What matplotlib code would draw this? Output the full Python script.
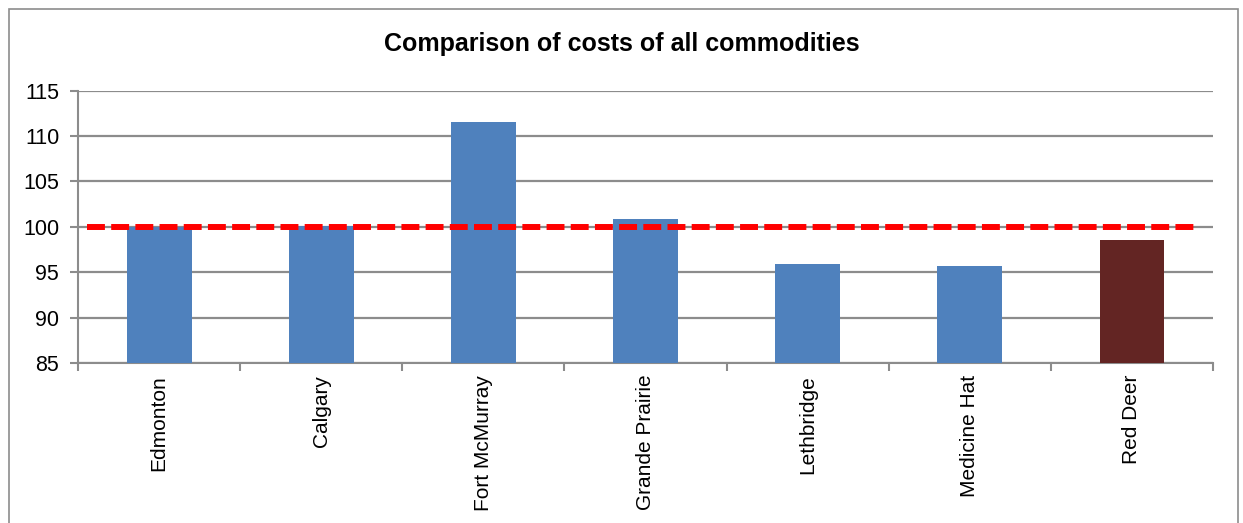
import matplotlib
matplotlib.use("Agg")
import matplotlib.pyplot as plt
from matplotlib.patches import Rectangle

plt.rcParams['font.family'] = ['Liberation Sans', 'DejaVu Sans']

cities = ["Edmonton", "Calgary", "Fort McMurray", "Grande Prairie",
          "Lethbridge", "Medicine Hat", "Red Deer"]
cost_index = [100.0, 100.1, 111.6, 100.9, 95.9, 95.7, 98.5]
baseline = 100
y_ticks = [85, 90, 95, 100, 105, 110, 115]

blue = "#4F81BD"
maroon = "#632523"
grid_gray = "#8C8C8C"
colors = [maroon if c == "Red Deer" else blue for c in cities]

fig = plt.figure(figsize=(12.43, 5.23), dpi=100)
ax = fig.add_axes([78 / 1243, 1 - 363 / 523, (1213 - 78) / 1243, (363 - 90.7) / 523])

x = list(range(len(cities)))
ax.bar(x, [v - y_ticks[0] for v in cost_index], bottom=y_ticks[0], width=0.4,
       color=colors, zorder=3)

ax.set_xlim(-0.5, len(cities) - 0.5)
ax.set_ylim(y_ticks[0], y_ticks[-1])
ax.set_yticks(y_ticks)
ax.set_yticklabels([str(t) for t in y_ticks], fontsize=15.5)
ax.set_xticks(x)
ax.set_xticklabels(cities, rotation=90, fontsize=15)
ax.tick_params(axis='x', length=0, pad=8.5)
ax.set_xticks([i + 0.5 for i in range(-1, len(cities))], minor=True)
ax.tick_params(axis='x', which='minor', length=6, width=1.5, color=grid_gray, direction='out')
ax.tick_params(axis='y', length=6, width=1.5, color=grid_gray, pad=7.5)

ax.yaxis.grid(True, color=grid_gray, linewidth=1.6, zorder=0)
ax.set_axisbelow(True)
for side in ("top", "right"):
    ax.spines[side].set_visible(False)
for side in ("left", "bottom"):
    ax.spines[side].set_color(grid_gray)
    ax.spines[side].set_linewidth(1.5)

ax.axhline(baseline, xmin=0.008, xmax=0.986, color="#FF0000", linewidth=4.3,
           dashes=(3, 1.05), solid_capstyle='butt', dash_capstyle='butt', zorder=4)

fig.text(0.5, 1 - 44 / 523, "Comparison of costs of all commodities",
         ha='center', va='center', fontsize=18, fontweight='bold')

fig.patches.append(Rectangle((9 / 1243, -0.1), (1238 - 9) / 1243, 1 - 9 / 523 + 0.1,
                             transform=fig.transFigure, fill=False,
                             edgecolor=grid_gray, linewidth=1.2))

fig.savefig("out.png", dpi=100)
